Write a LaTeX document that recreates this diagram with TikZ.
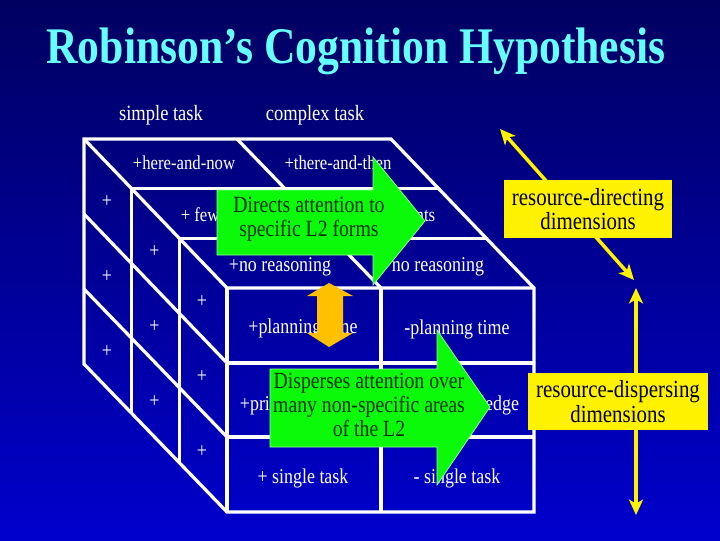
\documentclass[tikz,border=0pt]{standalone}
\usepackage{fontspec}
\setmainfont{Liberation Serif}[FakeStretch=0.85]
\usetikzlibrary{arrows.meta}
\definecolor{navytop}{RGB}{0,0,96}
\definecolor{navybot}{RGB}{0,0,205}
\definecolor{titlecyan}{RGB}{102,255,255}
\definecolor{arrowgreen}{RGB}{10,250,10}
\definecolor{textgreen}{RGB}{0,50,0}
\definecolor{gold}{RGB}{255,192,0}

\begin{document}
\begin{tikzpicture}[x=0.025cm, y=-0.025cm,
    cubeline/.style={white, line width=2.3pt},
    cell/.style={text=white, inner sep=0pt, font=\fontsize{15}{17}\selectfont},
    toplabel/.style={text=white, inner sep=0pt, font=\fontsize{14}{16}\selectfont},
    head/.style={text=white, inner sep=0pt, font=\fontsize{15.5}{17}\selectfont},
    greenarrow/.style={fill=arrowgreen, draw=green!40!white, line width=0.5pt},
    arrowtext/.style={text=textgreen, align=center, inner sep=0pt, font=\fontsize{16.5}{16.8}\selectfont},
    dimbox/.style={fill=yellow, text=black, align=center, inner sep=0pt, font=\fontsize{17.5}{17.2}\selectfont},
    dimarrow/.style={yellow, line width=2.5pt, {Stealth[length=11pt,width=10pt,inset=3pt]}-{Stealth[length=11pt,width=10pt,inset=3pt]}}]
    \shade[top color=navytop, bottom color=navybot] (0,0) rectangle (720,540);
    \node[text=titlecyan, anchor=base, inner sep=0pt, font=\bfseries\fontsize{36.5}{40}\selectfont] (title) at (356,63) {Robinson’s Cognition Hypothesis};
    \node[head, anchor=base] (simple) at (161,120) {simple task};
    \node[head, anchor=base] (complex) at (315,120) {complex task};
    % the cube
    \draw[cubeline] (84,139) -- (391,139) -- (534,288) -- (534,512) -- (227,512) -- (84,364) -- cycle;
    \draw[cubeline] (84,139) -- (227,288) -- (534,288);
    \draw[cubeline] (227,288) -- (227,512);
    \draw[cubeline] (131.7,188.7) -- (438.7,188.7);
    \draw[cubeline] (179.3,238.3) -- (486.3,238.3);
    \draw[cubeline] (237,139) -- (381,288);
    \draw[cubeline] (227,363) -- (534,363);
    \draw[cubeline] (227,437) -- (534,437);
    \draw[cubeline] (381,288) -- (381,512);
    \draw[cubeline] (84,214) -- (227,363);
    \draw[cubeline] (84,289) -- (227,437);
    \draw[cubeline] (131.7,188.7) -- (131.7,413);
    \draw[cubeline] (179.3,238.3) -- (179.3,462.5);
    \foreach \i in {0,1,2}
      \foreach \j in {0,1,2}
        \node[cell] (plus\i\j) at (107+47.5*\i, 202+50*\i+75*\j) {+};
    % labels on the cube
    \node[toplabel, anchor=base] (nowlbl) at (184,169) {+here-and-now};
    \node[toplabel, anchor=base] (thenlbl) at (338,169) {+there-and-then};
    \node[toplabel, anchor=base] (fewlbl) at (232,221) {+ few elements};
    \node[toplabel, anchor=base] (manylbl) at (386,221) {- few elements};
    \node[cell, anchor=base] (reaslbl) at (280,271) {+no reasoning};
    \node[cell, anchor=base] (noreaslbl) at (438,271) {no reasoning};
    \node[cell, anchor=base] (planlbl) at (303,333) {+planning time};
    \node[cell, anchor=base] (noplanlbl) at (457,334) {-planning time};
    \node[cell, anchor=base] (priorlbl) at (304,410) {+prior knowledge};
    \node[cell, anchor=base] (nopriorlbl) at (457,410) {-prior knowledge};
    \node[cell, anchor=base] (singlelbl) at (303,483) {+ single task};
    \node[cell, anchor=base] (duallbl) at (457,483) {- single task};
    % green arrows
    \filldraw[greenarrow] (217,190) -- (373,190) -- (373,157) -- (425,221) -- (373,285) -- (373,255) -- (217,255) -- cycle;
    \node[arrowtext] (directs) at (309,219) {Directs attention to\\specific L2 forms};
    \filldraw[greenarrow] (270,369) -- (437,369) -- (437,330) -- (490,407) -- (437,485) -- (437,447) -- (270,447) -- cycle;
    \node[arrowtext] (disperses) at (369,405) {Disperses attention over\\many non-specific areas\\of the L2};
    % orange double arrow
    \fill[gold] (329,283) -- (353,296) -- (343,296) -- (343,333) -- (353,333) -- (329,347) -- (307,333) -- (317,333) -- (317,296) -- (307,296) -- cycle;
    % yellow dimension arrows
    \coordinate (dirTop) at (500,129);
    \coordinate (dirBot) at (634,280);
    \coordinate (disTop) at (636,288);
    \coordinate (disBot) at (636,515);
    \draw[dimarrow] (dirTop) -- (dirBot);
    \draw[dimarrow] (disTop) -- (disBot);
    \node[dimbox, minimum width=4.2cm, minimum height=1.45cm] (directing) at (588,209) {resource-directing\\dimensions};
    \node[dimbox, minimum width=4.5cm, minimum height=1.43cm] (dispersing) at (618,401.5) {resource-dispersing\\dimensions};
\end{tikzpicture}
\end{document}
